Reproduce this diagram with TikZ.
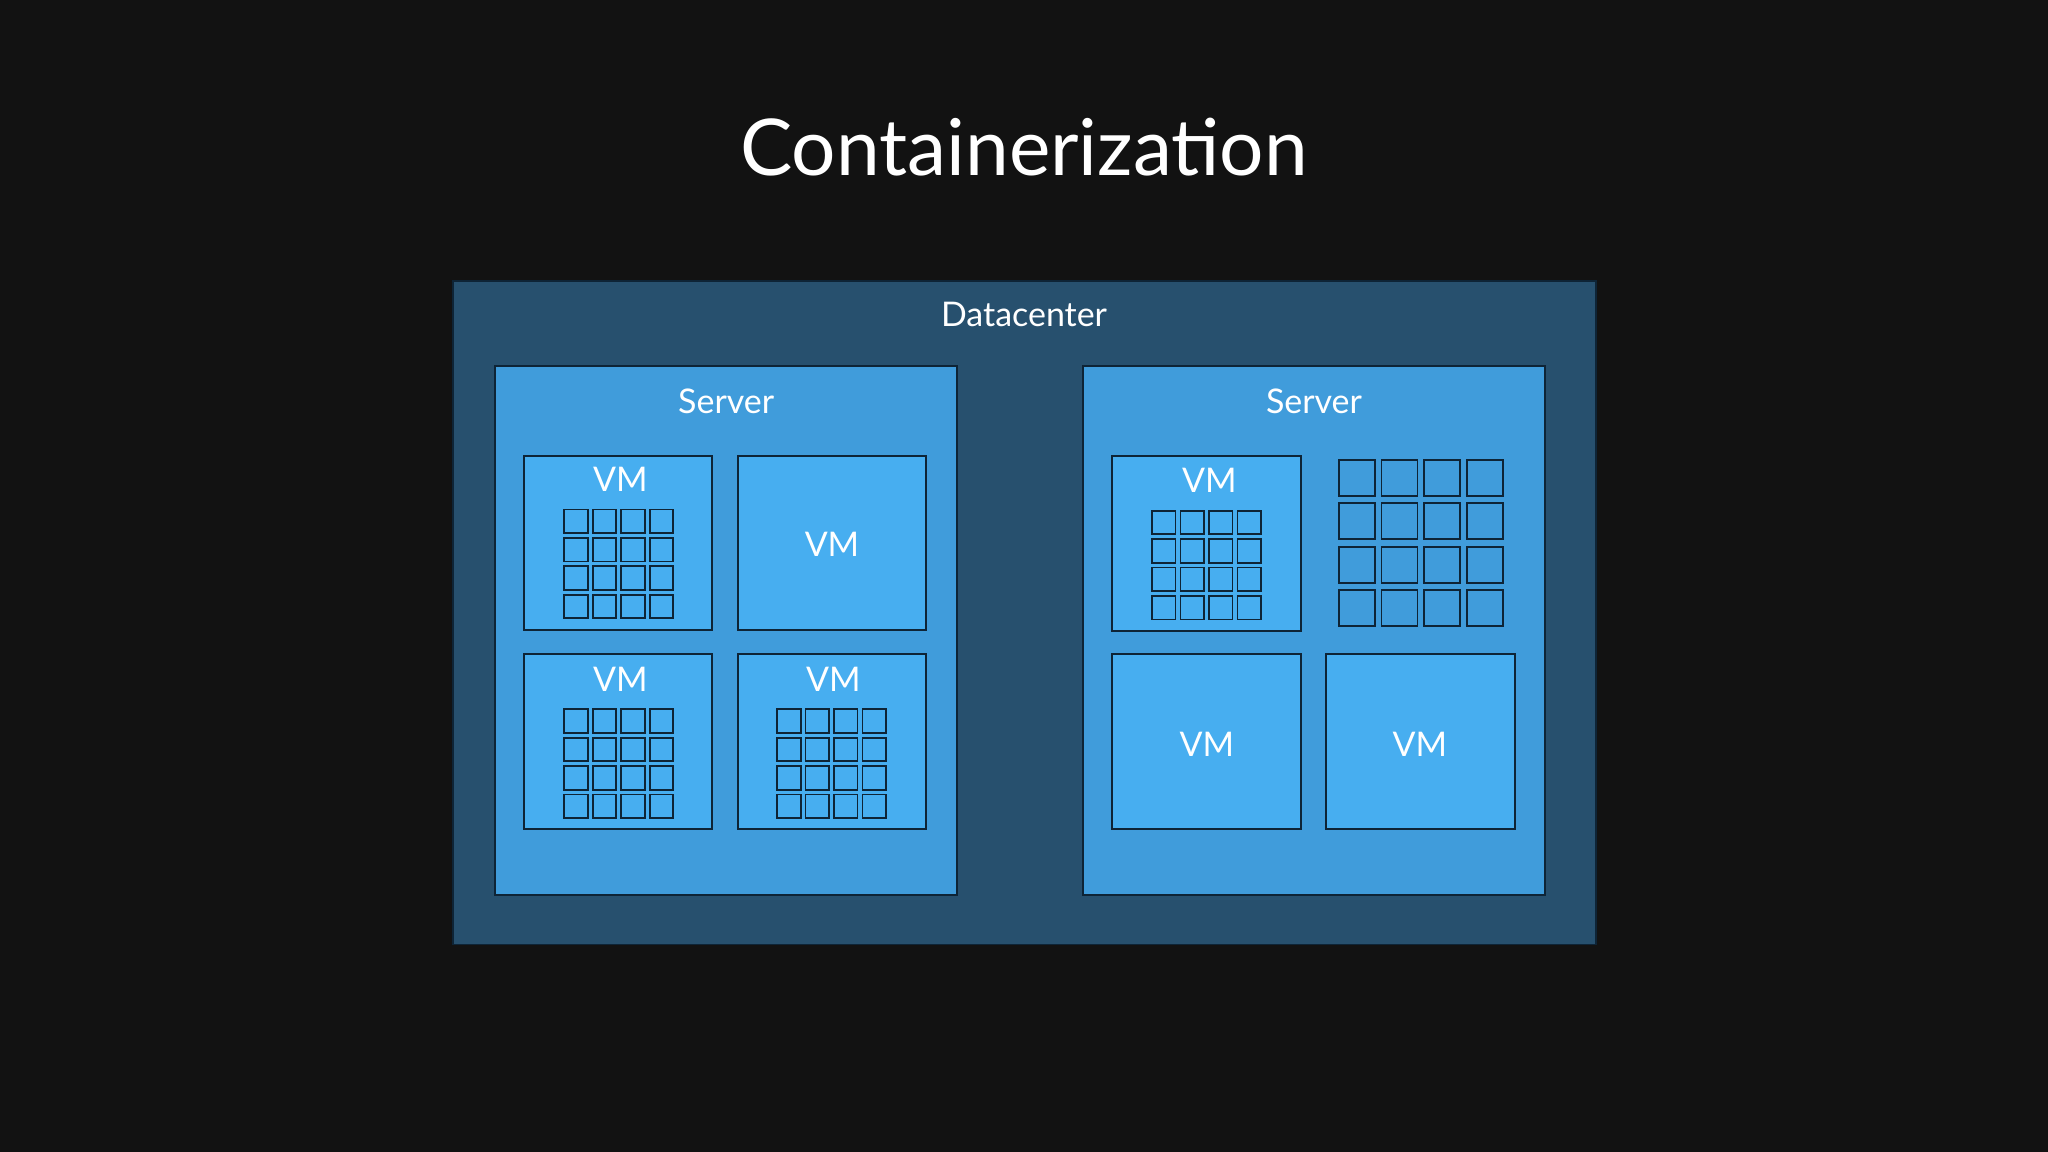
\documentclass[tikz,border=0pt]{standalone}
\usepackage{fontspec}
\setmainfont{Lato}
\definecolor{bg}{HTML}{121212}
\definecolor{dc}{HTML}{27506E}
\definecolor{srv}{HTML}{409CDB}
\definecolor{vm}{HTML}{47AEF0}
\definecolor{edge}{HTML}{0E2436}
\begin{document}
\begin{tikzpicture}[x=1pt,y=-1pt,
  dcbox/.style={fill=dc,draw=edge,line width=1.2pt},
  srvbox/.style={fill=srv,draw=edge,line width=1.5pt},
  vmbox/.style={fill=vm,draw=edge,line width=1.5pt},
  cell/.style={draw=edge,line width=1.3pt},
  lbl/.style={text=white,font=\fontsize{26}{28}\selectfont,inner sep=0pt}]
\fill[bg] (0,0) rectangle (1568,882);
\useasboundingbox (0,0) rectangle (1568,882);
\node[text=white,font=\fontsize{60}{68}\selectfont,inner sep=0pt] (title) at (784,113) {Containerization};
\draw[dcbox] (347,215) rectangle (1222,723);
\node[lbl] (dcl) at (784,241) {Datacenter};
\draw[srvbox] (379,280) rectangle (733,685);
\draw[srvbox] (829,280) rectangle (1183,685);
\node[lbl] (s1) at (556,307) {Server};
\node[lbl] (s2) at (1006,307) {Server};
% VM boxes
\draw[vmbox] (401,349) rectangle (545,482);
\draw[vmbox] (565,349) rectangle (709,482);
\draw[vmbox] (401,501) rectangle (545,635);
\draw[vmbox] (565,501) rectangle (709,635);
\draw[vmbox] (851,349) rectangle (996,483);
\draw[vmbox] (851,501) rectangle (996,635);
\draw[vmbox] (1015,501) rectangle (1160,635);
\node[lbl] (v1) at (475,367) {VM};
\node[lbl] (v2) at (637,417) {VM};
\node[lbl] (v3) at (475,520) {VM};
\node[lbl] (v4) at (638,520) {VM};
\node[lbl] (v5) at (926,368) {VM};
\node[lbl] (v6) at (924,570) {VM};
\node[lbl] (v7) at (1087,570) {VM};
% small grids
\foreach \gx/\gy in {432/390, 432/543, 595/543, 882/391}{
  \foreach \i in {0,...,3}{\foreach \j in {0,...,3}{
    \draw[cell] (\gx+\i*21.8,\gy+\j*21.8) rectangle ++(18,18);
  }}}
% big grid
\foreach \i in {0,...,3}{\foreach \j in {0,...,3}{
  \draw[cell] (1025+\i*32.7,352+\j*33.3) rectangle ++(27.5,27.5);
}}
\end{tikzpicture}
\end{document}
